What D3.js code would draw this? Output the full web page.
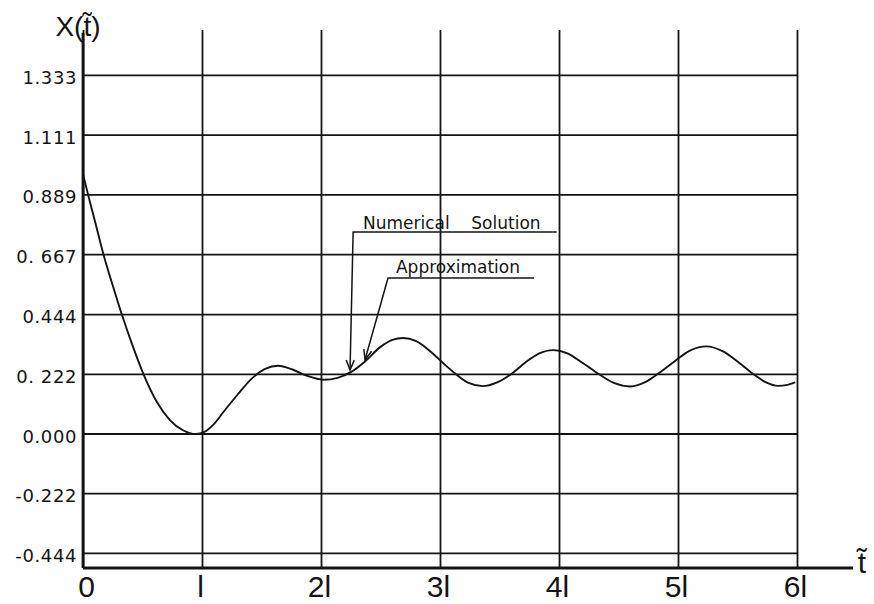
<!DOCTYPE html>
<html>
<head>
<meta charset="utf-8">
<script src="https://cdn.jsdelivr.net/npm/d3@7"></script>
<style>
    body { margin: 0; background: #fff; }
    svg { display: block; }
</style>
</head>
<body>
<div id="chart"></div>
<script>
// curve: t in units of l, X(t)
const tValues = [0, 0.042, 0.10, 0.171, 0.25, 0.325, 0.41, 0.507, 0.62, 0.73,
    0.84, 0.95, 1.02, 1.10, 1.18, 1.30, 1.42, 1.53, 1.64, 1.76,
    1.88, 2.02, 2.14, 2.25, 2.37, 2.50, 2.60, 2.69, 2.80, 2.92,
    3.03, 3.13, 3.24, 3.36, 3.48, 3.61, 3.72, 3.83, 3.95, 4.07,
    4.20, 4.33, 4.46, 4.60, 4.72, 4.84, 4.97, 5.10, 5.24, 5.37,
    5.50, 5.62, 5.74, 5.84, 5.92, 5.985];
const xValues = [0.965, 0.889, 0.79, 0.667, 0.55, 0.444, 0.335, 0.222, 0.118, 0.05,
    0.012, -0.002, 0.006, 0.035, 0.08, 0.145, 0.205, 0.24, 0.252, 0.238,
    0.215, 0.200, 0.207, 0.228, 0.268, 0.322, 0.348, 0.355, 0.343, 0.305,
    0.26, 0.222, 0.188, 0.176, 0.19, 0.225, 0.265, 0.297, 0.31, 0.298,
    0.262, 0.222, 0.188, 0.175, 0.19, 0.225, 0.268, 0.308, 0.324, 0.307,
    0.268, 0.225, 0.19, 0.177, 0.181, 0.19];

const yTickValues = [-0.444, -0.222, 0, 0.222, 0.444, 0.667, 0.889, 1.111, 1.333];
const yTickLabels = ["-0.444", "-0.222", "0.000", "0. 222", "0.444", "0. 667", "0.889", "1.111", "1.333"];
const xTickValues = [0, 1, 2, 3, 4, 5, 6];
const xTickLabels = ["0", "l", "2l", "3l", "4l", "5l", "6l"];

const ink = "#141414";

const svg = d3.select("#chart").append("svg")
    .attr("width", 874)
    .attr("height", 604);

const x = d3.scaleLinear().domain([0, 6]).range([83, 797]);
const y = d3.scaleLinear().domain([-0.5, 1.5]).range([568, 30]);

// horizontal grid + y tick labels
const yAxis = svg.append("g")
    .attr("transform", `translate(${x(0)},0)`)
    .call(d3.axisLeft(y)
        .tickValues(yTickValues)
        .tickFormat((d, i) => yTickLabels[i])
        .tickSize(-(x(6) - x(0)))
        .tickPadding(6));
yAxis.select(".domain").remove();
yAxis.selectAll(".tick line").attr("stroke", ink).attr("stroke-width", 1.8);
yAxis.selectAll(".tick text")
    .attr("dy", "0.48em")
    .attr("fill", ink)
    .style("font-family", "'DejaVu Sans', sans-serif")
    .style("font-size", "18px")
    .style("letter-spacing", "0.6px");

// vertical grid + t tick labels
const xAxis = svg.append("g")
    .attr("transform", `translate(0,${y(-0.5)})`)
    .call(d3.axisBottom(x)
        .tickValues(xTickValues)
        .tickFormat((d, i) => xTickLabels[i])
        .tickSize(-(y(-0.5) - y(1.5)))
        .tickPadding(8));
xAxis.select(".domain").remove();
xAxis.selectAll(".tick line").attr("stroke", ink).attr("stroke-width", 1.8);
xAxis.selectAll(".tick text")
    .attr("fill", ink)
    .attr("dx", (d, i) => i === 0 ? 3 : -2)
    .style("font-family", "'Liberation Sans', Arial, sans-serif")
    .style("font-size", "30px");

// heavy axis lines
svg.append("line")
    .attr("x1", x(0)).attr("x2", x(0))
    .attr("y1", y(-0.5)).attr("y2", y(1.49))
    .attr("stroke", ink).attr("stroke-width", 2.8);
svg.append("line")
    .attr("x1", x(0)).attr("x2", x(6) + 56)
    .attr("y1", y(-0.5)).attr("y2", y(-0.5))
    .attr("stroke", ink).attr("stroke-width", 2.8);

// axis titles
svg.append("text")
    .attr("x", 78).attr("y", 36)
    .attr("text-anchor", "middle")
    .attr("fill", ink)
    .style("font-family", "'Liberation Sans', Arial, sans-serif")
    .style("font-size", "28px")
    .text("X(t\u0303)");
svg.append("text")
    .attr("x", 862).attr("y", 573)
    .attr("text-anchor", "middle")
    .attr("fill", ink)
    .style("font-family", "'Liberation Sans', Arial, sans-serif")
    .style("font-size", "30px")
    .text("t\u0303");

// the curve
const points = tValues.map((t, i) => [t, xValues[i]]);
const line = d3.line()
    .x(d => x(d[0]))
    .y(d => y(d[1]))
    .curve(d3.curveMonotoneX);
svg.append("path")
    .datum(points)
    .attr("d", line)
    .attr("fill", "none")
    .attr("stroke", ink)
    .attr("stroke-width", 1.9);

// leader arrows
svg.append("defs").append("marker")
    .attr("id", "arrow")
    .attr("viewBox", "-11 -6 13 12")
    .attr("refX", 0).attr("refY", 0)
    .attr("markerWidth", 13).attr("markerHeight", 12)
    .attr("markerUnits", "userSpaceOnUse")
    .attr("orient", "auto")
    .append("path")
    .attr("d", "M-10,-4 L0,0 L-10,4")
    .attr("fill", "none")
    .attr("stroke", ink)
    .attr("stroke-width", 1.5);

const notes = [
    {text: "Numerical\u00a0\u00a0\u00a0 Solution", tx: 2.353, ty: 0.762, lineY: 0.749, x0: 2.27, x1: 3.98, tipT: 2.244, tipX: 0.236},
    {text: "Approximation", tx: 2.63, ty: 0.597, lineY: 0.578, x0: 2.563, x1: 3.79, tipT: 2.37, tipX: 0.274}
];

notes.forEach(n => {
    svg.append("text")
        .attr("x", x(n.tx)).attr("y", y(n.ty))
        .attr("fill", ink)
        .style("font-family", "'DejaVu Sans', sans-serif")
        .style("font-size", "17px")
        .text(n.text);
    svg.append("path")
        .attr("d", `M${x(n.x1)},${y(n.lineY)} L${x(n.x0)},${y(n.lineY)} L${x(n.tipT)},${y(n.tipX)}`)
        .attr("fill", "none")
        .attr("stroke", ink)
        .attr("stroke-width", 1.5)
        .attr("marker-end", "url(#arrow)");
});
</script>
</body>
</html>
